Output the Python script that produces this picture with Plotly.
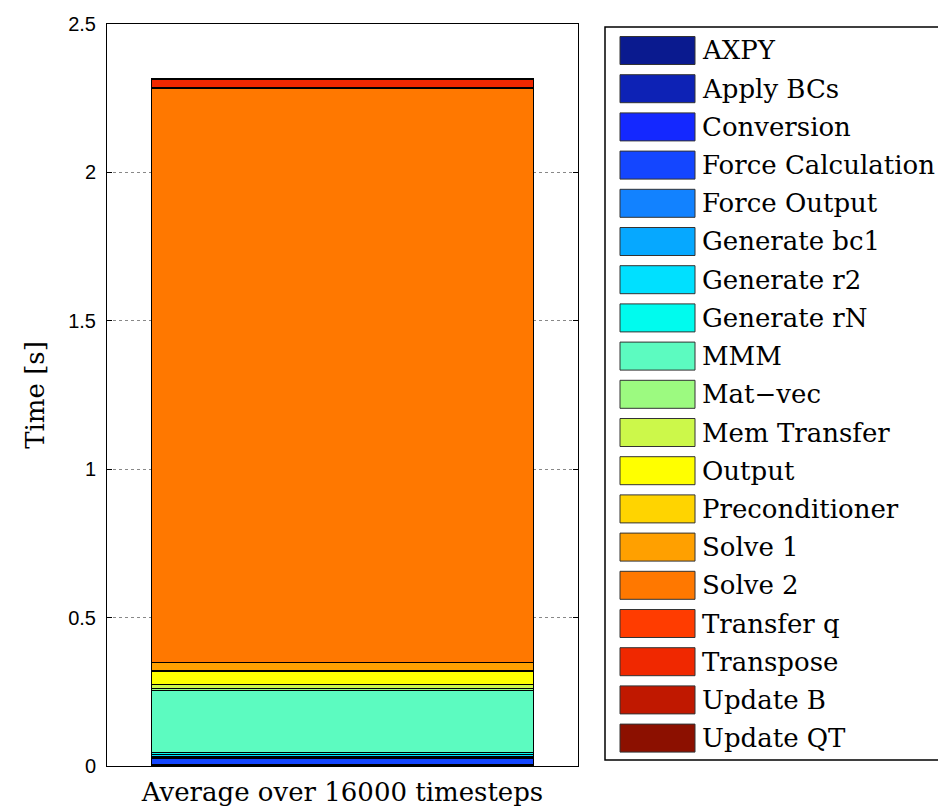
import plotly.graph_objects as go

# Timing breakdown of one solver step (stacked bottom -> top)
category = ["Average over 16000 timesteps"]
kernels = [
    "AXPY", "Apply BCs", "Conversion", "Force Calculation", "Force Output",
    "Generate bc1", "Generate r2", "Generate rN", "MMM", "Mat\u2212vec",
    "Mem Transfer", "Output", "Preconditioner", "Solve 1", "Solve 2",
    "Transfer q", "Transpose", "Update B", "Update QT",
]
times = [
    0.001, 0.002, 0.003, 0.018, 0.004,
    0.005, 0.005, 0.007, 0.211, 0.006,
    0.013, 0.042, 0.004, 0.028, 1.934,
    0.004, 0.026, 0.001, 0.001,
]
colors = [
    "#0a1a8f", "#0d22b5", "#1428ff", "#1446ff", "#1282ff",
    "#06a8ff", "#00e0ff", "#00fbee", "#5cfbc0", "#9cfa80",
    "#ccf84a", "#ffff00", "#ffd400", "#ffa000", "#ff7800",
    "#ff3c00", "#f02800", "#c01800", "#8c1000",
]
y_ticks = [0, 0.5, 1, 1.5, 2, 2.5]
y_ticktext = ["0", "0.5", "1", "1.5", "2", "2.5"]

W, H = 938, 806
L, R, T, B = 107, 578, 24, 766  # plot area in pixels

serif = "DejaVu Serif"
sans = "Liberation Sans"

fig = go.Figure()
for name, t, c in zip(kernels, times, colors):
    fig.add_trace(go.Bar(
        x=[1], y=[t], name=name, width=0.81,
        marker=dict(color=c, line=dict(color="black", width=1)),
        showlegend=False,
    ))

# Hand-built legend box with wide swatches
def px_x(p):
    return (p - L) / (R - L)

def px_y(p):
    return (B - p) / (B - T)

shapes = [dict(type="rect", xref="paper", yref="paper",
               x0=px_x(605), x1=px_x(960), y0=px_y(760), y1=px_y(27),
               line=dict(color="black", width=1.5), fillcolor="white", layer="above")]
annotations = []
row0, step = 50.5, 38.2
for i, (name, c) in enumerate(zip(kernels, colors)):
    cy = row0 + i * step
    shapes.append(dict(type="rect", xref="paper", yref="paper",
                       x0=px_x(620), x1=px_x(695), y0=px_y(cy + 14), y1=px_y(cy - 14),
                       line=dict(color="#333333", width=1), fillcolor=c, layer="above"))
    annotations.append(dict(xref="paper", yref="paper", x=px_x(700), y=px_y(cy),
                            text=name, showarrow=False, xanchor="left", yanchor="middle",
                            font=dict(family=serif, size=26, color="black")))

fig.update_layout(
    width=W, height=H,
    margin=dict(l=L, r=W - R, t=T, b=H - B, pad=0),
    barmode="stack",
    plot_bgcolor="white", paper_bgcolor="white",
    showlegend=False,
    shapes=shapes,
    annotations=annotations,
    xaxis=dict(
        range=[0.5, 1.5], tickvals=[1], ticktext=category,
        tickfont=dict(family=serif, size=26, color="black"),
        showline=True, mirror=True, linecolor="black", linewidth=1,
        ticks="", showgrid=False, zeroline=False, fixedrange=True,
        automargin=False, ticklabelstandoff=3,
    ),
    yaxis=dict(
        range=[0, 2.5], tickvals=y_ticks, ticktext=y_ticktext,
        tickfont=dict(family=sans, size=20, color="black"),
        ticks="inside", ticklen=5, tickcolor="black",
        ticklabelstandoff=6,
        showline=True, mirror="ticks", linecolor="black", linewidth=1,
        showgrid=True, gridcolor="#888888", gridwidth=1, griddash="dot",
        zeroline=False, automargin=False,
        title=dict(text="Time [s]", font=dict(family=serif, size=26, color="black"),
                   standoff=16),
    ),
)

fig.write_html("out.html")
